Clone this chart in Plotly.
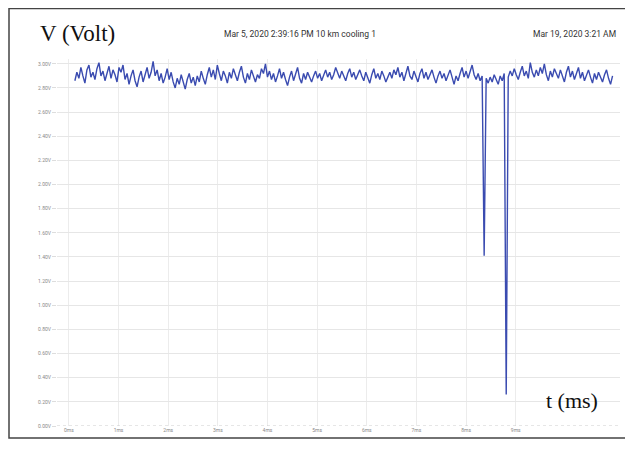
import numpy as np
import plotly.graph_objects as go

volts = [
    2.86, 2.93, 2.88, 2.97, 2.90, 2.84, 2.95, 2.99, 2.89, 2.93, 2.87, 2.96, 3.01, 2.90, 2.94, 2.86, 2.92, 2.98, 2.88, 2.95,
    2.91, 2.85, 2.97, 2.93, 2.99, 2.87, 2.92, 2.83, 2.90, 2.95, 2.86, 2.81, 2.89, 2.94, 2.85, 2.91, 2.97, 2.88, 2.93, 3.02,
    2.90, 2.95, 2.86, 2.92, 2.84, 2.89, 2.96, 2.87, 2.93, 2.85, 2.80, 2.88, 2.83, 2.91, 2.86, 2.79, 2.87, 2.92, 2.84, 2.89,
    2.82, 2.90, 2.85, 2.94, 2.88, 2.83, 2.91, 2.97, 2.89, 2.95, 2.87, 2.99, 2.92, 2.86, 2.94, 2.90, 2.84, 2.93, 2.88, 2.96,
    2.91, 2.86, 2.93, 2.98, 2.89, 2.84, 2.92, 2.87, 2.95, 2.90, 2.85, 2.91, 2.88, 2.96, 2.92, 3.00, 2.89, 2.94, 2.87, 2.92,
    2.85, 2.90, 2.96, 2.88, 2.93, 2.87, 2.82, 2.89, 2.94, 2.86, 2.91, 2.97, 2.88, 2.84, 2.92, 2.87, 2.93, 2.89, 2.85, 2.90,
    2.94, 2.88, 2.92, 2.86, 2.90, 2.95, 2.89, 2.93, 2.87, 2.91, 2.97, 2.92, 2.88, 2.94, 2.90, 2.86, 2.92, 2.96, 2.89, 2.93,
    2.87, 2.91, 2.95, 2.90, 2.86, 2.93, 2.89, 2.84, 2.91, 2.96, 2.88, 2.92, 2.87, 2.94, 2.90, 2.85, 2.89, 2.93, 2.88, 2.95,
    2.91, 2.97, 2.89, 2.93, 2.86, 2.92, 2.98, 2.90, 2.87, 2.94, 2.89, 2.85, 2.92, 2.96, 2.88, 2.93, 2.87, 2.91, 2.95, 2.89,
    2.84, 2.90, 2.94, 2.88, 2.92, 2.86, 2.91, 2.95, 2.89, 2.83, 2.90, 2.86, 2.92, 2.97, 2.89, 2.94, 2.88, 2.93, 2.99, 2.91,
    2.87, 2.92, 2.86, 2.90, 1.41, 2.88, 2.84, 2.89, 2.85, 2.91, 2.87, 2.83, 2.90, 2.86, 2.92, 0.26, 2.89, 2.94, 2.90, 2.96,
    2.91, 2.87, 2.93, 2.98, 2.90, 2.94, 2.88, 3.01, 2.93, 2.89, 2.95, 2.90, 2.97, 2.92, 3.00, 2.91, 2.86, 2.94, 2.89, 2.96,
    2.92, 2.88, 2.95, 2.90, 2.85, 2.93, 2.98, 2.89, 2.94, 2.87, 2.92, 2.97, 2.88, 2.93, 2.86, 2.91, 2.95, 2.89, 2.84, 2.92,
    2.87, 2.93, 2.89, 2.85, 2.91, 2.95, 2.88, 2.83, 2.90,
]
t_start, t_end = 0.12, 10.95
times = np.linspace(t_start, t_end, len(volts))

y_tick_vals = [round(0.2 * k, 2) for k in range(16)]
y_tick_text = [f"{v:.2f}V" for v in y_tick_vals]
x_tick_vals = list(range(10))
x_tick_text = [f"{v}ms" for v in x_tick_vals]

fig = go.Figure()
fig.add_trace(go.Scatter(
    x=times, y=volts, mode="lines",
    line=dict(color="#3a4bb0", width=1.4),
    hoverinfo="skip", showlegend=False,
))

OFF = 8  # default page body margin
W, H = 633 - OFF, 462 - OFF
ml, mr, mt, mb = 57 - OFF, 13, 59 - OFF, 36
pw, ph = W - ml - mr, H - mt - mb

def px(xp):
    return (xp - OFF - ml) / pw

def py(yp):
    return (H - mb - (yp - OFF)) / ph

fig.update_layout(
    width=W, height=H,
    margin=dict(l=ml, r=mr, t=mt, b=mb, pad=0),
    paper_bgcolor="white", plot_bgcolor="white",
    font=dict(family="Roboto, sans-serif", color="#777777"),
    xaxis=dict(
        range=[-0.24, 11.1], tickvals=x_tick_vals, ticktext=x_tick_text,
        showgrid=True, gridcolor="#ececec", gridwidth=1,
        tickfont=dict(size=5, color="#888888"),
        ticks="", zeroline=False, showline=False,
    ),
    yaxis=dict(
        range=[0, 3.04], tickvals=y_tick_vals, ticktext=y_tick_text,
        showgrid=True, gridcolor="#e6e6e6", gridwidth=1,
        tickfont=dict(size=5, color="#888888"),
        ticks="outside", ticklen=4, tickcolor="#dddddd",
        zeroline=False, showline=False,
    ),
    shapes=[
        dict(type="rect", xref="paper", yref="paper",
             x0=px(9), x1=px(640), y0=py(438), y1=py(8.5),
             line=dict(color="#444444", width=1.5), fillcolor="rgba(0,0,0,0)"),
        dict(type="line", xref="paper", yref="y",
             x0=0, x1=1, y0=0, y1=0,
             line=dict(color="#cccccc", width=1, dash="dot")),
    ],
    annotations=[
        dict(text="V (Volt)", xref="paper", yref="paper", x=px(38), y=py(34),
             xanchor="left", yanchor="middle", showarrow=False,
             font=dict(family="Liberation Serif, serif", size=23, color="#111111")),
        dict(text="t (ms)", xref="paper", yref="paper", x=px(544), y=py(400),
             xanchor="left", yanchor="middle", showarrow=False,
             font=dict(family="Liberation Serif, serif", size=22, color="#111111")),
        dict(text="Mar 5, 2020 2:39:16 PM 10 km cooling 1", xref="paper", yref="paper",
             x=px(300), y=py(34), xanchor="center", yanchor="middle", showarrow=False,
             font=dict(size=8.5, color="#333333")),
        dict(text="Mar 19, 2020 3:21 AM", xref="paper", yref="paper",
             x=px(618), y=py(34), xanchor="right", yanchor="middle", showarrow=False,
             font=dict(size=8.5, color="#333333")),
    ],
)

fig.write_html("out.html")
